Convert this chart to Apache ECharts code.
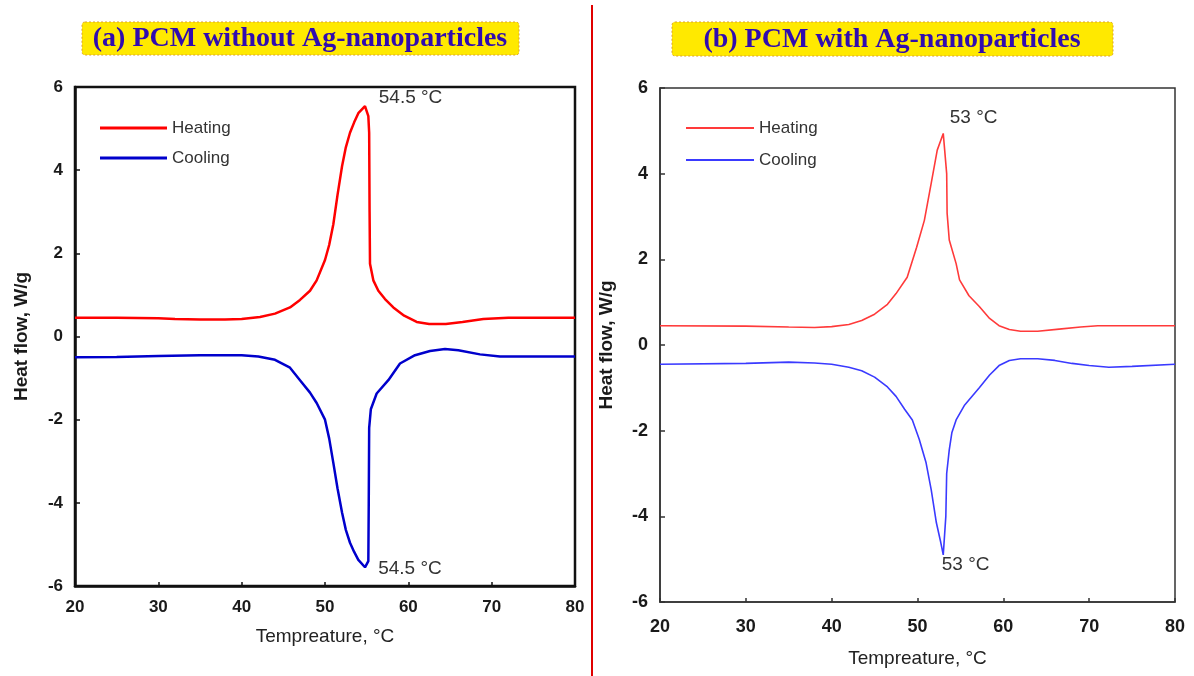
<!DOCTYPE html>
<html><head><meta charset="utf-8">
<script src="https://cdn.jsdelivr.net/npm/echarts@6/dist/echarts.min.js"></script>
<style>html,body{margin:0;padding:0;background:#fff}#c{width:1194px;height:676px}</style>
</head><body><div id="c"></div>
<script>
// Panel (a) PCM without Ag-nanoparticles
const heatA_T = [20,25,30,32,35,38,40,42.2,44,45.8,47,48.2,49,50,50.5,51,51.5,52.05,52.5,53,53.5,54,54.8,55.0,55.2,55.3,55.35,55.4,55.8,56.4,57.2,58.2,59.5,61,62.5,64.5,66.5,69,72,80];
const heatA_V = [0.45,0.45,0.44,0.42,0.41,0.41,0.42,0.47,0.55,0.7,0.88,1.1,1.35,1.84,2.2,2.7,3.4,4.1,4.55,4.9,5.15,5.37,5.54,5.55,5.3,4.9,3.0,1.75,1.35,1.1,0.9,0.7,0.5,0.35,0.3,0.3,0.35,0.42,0.45,0.45];
const coolA_T = [20,25,30,35,40,42,44,45.8,47,48.2,49,50,50.5,51,51.5,52.05,52.5,53,53.5,54,54.8,55.0,55.2,55.25,55.3,55.5,56.2,57.6,59,60.8,62.6,64.4,66,68.6,71,80];
const coolA_V = [-0.5,-0.49,-0.47,-0.45,-0.45,-0.48,-0.56,-0.75,-1.05,-1.35,-1.6,-2.0,-2.45,-3.04,-3.65,-4.24,-4.65,-4.96,-5.18,-5.37,-5.55,-5.57,-5.4,-4.0,-2.2,-1.75,-1.37,-1.05,-0.65,-0.45,-0.35,-0.3,-0.33,-0.43,-0.48,-0.48];
// Panel (b) PCM with Ag-nanoparticles
const heatB_T = [20,30,35,38,40,42,43.5,45,46.5,47.5,48.8,49.9,50.8,51.6,52.3,53.0,53.4,53.45,53.7,54.5,54.9,56,57.2,58.4,59.5,60.7,62,64,66.5,69,71,80];
const heatB_V = [0.45,0.44,0.42,0.41,0.43,0.48,0.57,0.72,0.95,1.2,1.58,2.28,2.91,3.78,4.55,4.94,4.0,3.08,2.45,1.9,1.52,1.15,0.9,0.62,0.45,0.36,0.32,0.32,0.37,0.42,0.45,0.45];
const coolB_T = [20,30,35,38,40,42,43.5,45,46.5,47.5,48.5,49.4,50.2,51.0,51.6,52.2,52.7,53.0,53.3,53.4,53.7,54.0,54.5,55.5,57.2,58.4,59.5,60.7,62,64,66,68,70,72.3,75,80];
const coolB_V = [-0.45,-0.43,-0.4,-0.42,-0.45,-0.52,-0.6,-0.75,-0.98,-1.2,-1.5,-1.75,-2.2,-2.75,-3.38,-4.15,-4.6,-4.9,-4.0,-3.0,-2.45,-2.05,-1.75,-1.4,-1.0,-0.7,-0.48,-0.36,-0.32,-0.32,-0.36,-0.43,-0.48,-0.52,-0.5,-0.45];
const xTicks = [20,30,40,50,60,70,80];
const yTicks = [-6,-4,-2,0,2,4,6];
const peakA = 54.5, peakB = 53;

const zip = (t, v) => t.map((x, i) => [x, v[i]]);
const chart = echarts.init(document.getElementById('c'), null, {renderer: 'canvas'});

function xAx(idx, fs, gap, margin, col) {
  return {
    type: 'value', gridIndex: idx, min: xTicks[0], max: xTicks[xTicks.length - 1], interval: 10,
    axisLine: {show: true, onZero: false, lineStyle: {color: col, width: idx === 0 ? 2.5 : 1.5}},
    axisTick: {show: true, inside: true, length: 4, lineStyle: {color: col, width: 1.5}},
    splitLine: {show: false},
    axisLabel: {color: '#1a1a1a', fontSize: fs, fontWeight: 'bold', fontFamily: 'Liberation Sans', margin: margin},
    name: 'Tempreature, \u00b0C', nameLocation: 'middle', nameGap: gap,
    nameTextStyle: {color: '#222', fontSize: 19, fontFamily: 'Liberation Sans'}
  };
}
function yAx(idx, fs, col) {
  return {
    type: 'value', gridIndex: idx, min: yTicks[0], max: yTicks[yTicks.length - 1], interval: 2,
    axisLine: {show: true, onZero: false, lineStyle: {color: col, width: idx === 0 ? 2.5 : 1.5}},
    axisTick: {show: true, inside: true, length: 5, lineStyle: {color: col, width: 1.5}},
    splitLine: {show: false},
    axisLabel: {color: '#1a1a1a', fontSize: fs, fontWeight: 'bold', fontFamily: 'Liberation Sans', margin: 12},
    name: 'Heat flow, W/g', nameLocation: 'middle', nameGap: 44, nameRotate: 90,
    nameTextStyle: {color: '#1a1a1a', fontSize: 19, fontWeight: 'bold', fontFamily: 'Liberation Sans'}
  };
}
function mp(coord, txt, offset) {
  return {
    symbol: 'circle', symbolSize: 1, itemStyle: {color: 'rgba(0,0,0,0)'},
    label: {show: true, position: 'right', distance: 0, offset: offset, formatter: txt,
      color: '#333', fontSize: 19, fontFamily: 'Liberation Sans'},
    data: [{coord: coord}]
  };
}

const legendText = {color: '#333', fontSize: 17, fontFamily: 'Liberation Sans', lineHeight: 20};

chart.setOption({
  animation: false,
  backgroundColor: '#fff',
  grid: [
    {left: 75, top: 87, width: 500, height: 499, show: true, borderColor: '#111', borderWidth: 2.5, backgroundColor: 'transparent'},
    {left: 660, top: 88, width: 515, height: 514, show: true, borderColor: '#333', borderWidth: 1.5, backgroundColor: 'transparent'}
  ],
  xAxis: [xAx(0, 17, 41, 13, '#111'), xAx(1, 18, 47, 16, '#333')],
  yAxis: [yAx(0, 17, '#111'), yAx(1, 18, '#333')],
  legend: [
    {left: 95, top: 113, orient: 'vertical', itemGap: 10, itemWidth: 67, itemHeight: 3, icon: 'rect',
     data: ['Heating', 'Cooling'], textStyle: legendText, selectedMode: false},
    {left: 681, top: 113, orient: 'vertical', itemGap: 12, itemWidth: 68, itemHeight: 2, icon: 'rect',
     data: ['Heating (b)', 'Cooling (b)'], textStyle: legendText, selectedMode: false,
     formatter: n => n.replace(' (b)', '')}
  ],
  series: [
    {name: 'Heating', type: 'line', xAxisIndex: 0, yAxisIndex: 0, data: zip(heatA_T, heatA_V),
     showSymbol: false, symbol: 'none', lineStyle: {color: '#ff0000', width: 2.5}, itemStyle: {color: '#ff0000'},
     markPoint: mp([54.95, 5.55], peakA.toFixed(1) + ' \u00b0C', [12, -8])},
    {name: 'Cooling', type: 'line', xAxisIndex: 0, yAxisIndex: 0, data: zip(coolA_T, coolA_V),
     showSymbol: false, symbol: 'none', lineStyle: {color: '#0000cc', width: 2.5}, itemStyle: {color: '#0000cc'},
     markPoint: mp([55.0, -5.57], peakA.toFixed(1) + ' \u00b0C', [11, 1])},
    {name: 'Heating (b)', type: 'line', xAxisIndex: 1, yAxisIndex: 1, data: zip(heatB_T, heatB_V),
     showSymbol: false, symbol: 'none', lineStyle: {color: '#ff3a3a', width: 1.6}, itemStyle: {color: '#ff3a3a'},
     markPoint: mp([53.0, 4.94], peakB + ' \u00b0C', [6, -16])},
    {name: 'Cooling (b)', type: 'line', xAxisIndex: 1, yAxisIndex: 1, data: zip(coolB_T, coolB_V),
     showSymbol: false, symbol: 'none', lineStyle: {color: '#3a3aff', width: 1.6}, itemStyle: {color: '#3a3aff'},
     markPoint: mp([53.0, -4.9], peakB + ' \u00b0C', [-2, 10])}
  ],
  graphic: [
    {type: 'line', shape: {x1: 592, y1: 5, x2: 592, y2: 676}, style: {stroke: '#e00000', lineWidth: 2}},
    {type: 'rect', shape: {x: 82, y: 22, width: 437, height: 33, r: 3},
     style: {fill: '#ffe900', stroke: '#d8a030', lineWidth: 1, lineDash: [2, 2]}},
    {type: 'text', x: 300, y: 39, style: {text: '(a) PCM without Ag-nanoparticles', fill: '#300cb0',
      font: 'bold 28px "Liberation Serif"', textAlign: 'center', textVerticalAlign: 'middle'}},
    {type: 'rect', shape: {x: 672, y: 22, width: 441, height: 34, r: 3},
     style: {fill: '#ffe900', stroke: '#d8a030', lineWidth: 1, lineDash: [2, 2]}},
    {type: 'text', x: 892, y: 40, style: {text: '(b) PCM with Ag-nanoparticles', fill: '#300cb0',
      font: 'bold 28px "Liberation Serif"', textAlign: 'center', textVerticalAlign: 'middle'}}
  ]
});
</script></body></html>
